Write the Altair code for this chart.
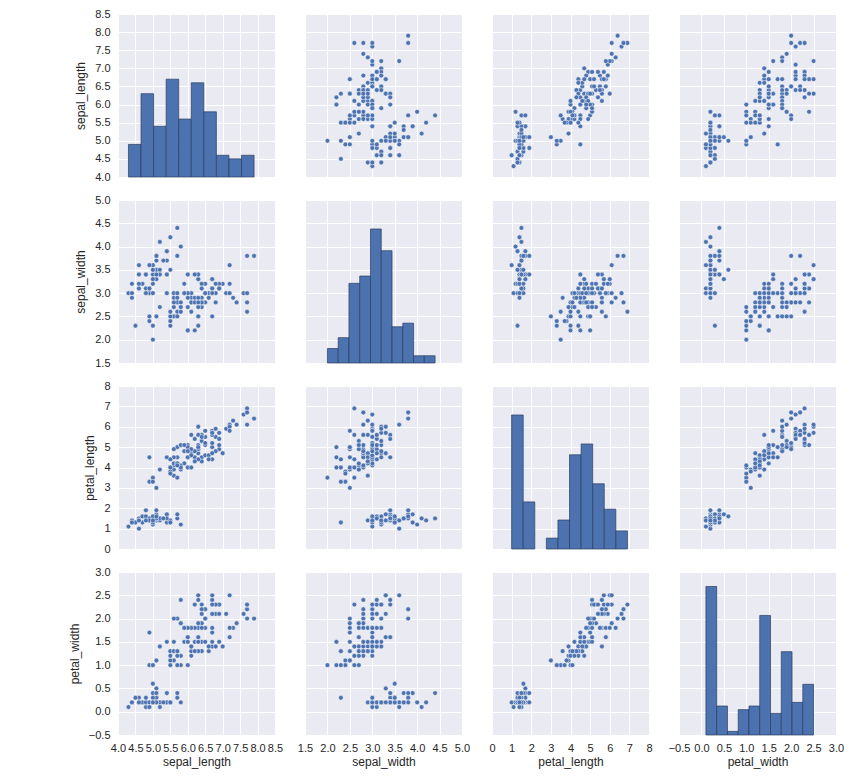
import altair as alt
import pandas as pd

sepal_length = [5.1, 4.9, 4.7, 4.6, 5.0, 5.4, 4.6, 5.0, 4.4, 4.9, 5.4, 4.8, 4.8, 4.3, 5.8, 5.7, 5.4, 5.1, 5.7, 5.1,
                5.4, 5.1, 4.6, 5.1, 4.8, 5.0, 5.0, 5.2, 5.2, 4.7, 4.8, 5.4, 5.2, 5.5, 4.9, 5.0, 5.5, 4.9, 4.4, 5.1,
                5.0, 4.5, 4.4, 5.0, 5.1, 4.8, 5.1, 4.6, 5.3, 5.0,
                7.0, 6.4, 6.9, 5.5, 6.5, 5.7, 6.3, 4.9, 6.6, 5.2, 5.0, 5.9, 6.0, 6.1, 5.6, 6.7, 5.6, 5.8, 6.2, 5.6,
                5.9, 6.1, 6.3, 6.1, 6.4, 6.6, 6.8, 6.7, 6.0, 5.7, 5.5, 5.5, 5.8, 6.0, 5.4, 6.0, 6.7, 6.3, 5.6, 5.5,
                5.5, 6.1, 5.8, 5.0, 5.6, 5.7, 5.7, 6.2, 5.1, 5.7,
                6.3, 5.8, 7.1, 6.3, 6.5, 7.6, 4.9, 7.3, 6.7, 7.2, 6.5, 6.4, 6.8, 5.7, 5.8, 6.4, 6.5, 7.7, 7.7, 6.0,
                6.9, 5.6, 7.7, 6.3, 6.7, 7.2, 6.2, 6.1, 6.4, 7.2, 7.4, 7.9, 6.4, 6.3, 6.1, 7.7, 6.3, 6.4, 6.0, 6.9,
                6.7, 6.9, 5.8, 6.8, 6.7, 6.7, 6.3, 6.5, 6.2, 5.9]
sepal_width = [3.5, 3.0, 3.2, 3.1, 3.6, 3.9, 3.4, 3.4, 2.9, 3.1, 3.7, 3.4, 3.0, 3.0, 4.0, 4.4, 3.9, 3.5, 3.8, 3.8,
               3.4, 3.7, 3.6, 3.3, 3.4, 3.0, 3.4, 3.5, 3.4, 3.2, 3.1, 3.4, 4.1, 4.2, 3.1, 3.2, 3.5, 3.6, 3.0, 3.4,
               3.5, 2.3, 3.2, 3.5, 3.8, 3.0, 3.8, 3.2, 3.7, 3.3,
               3.2, 3.2, 3.1, 2.3, 2.8, 2.8, 3.3, 2.4, 2.9, 2.7, 2.0, 3.0, 2.2, 2.9, 2.9, 3.1, 3.0, 2.7, 2.2, 2.5,
               3.2, 2.8, 2.5, 2.8, 2.9, 3.0, 2.8, 3.0, 2.9, 2.6, 2.4, 2.4, 2.7, 2.7, 3.0, 3.4, 3.1, 2.3, 3.0, 2.5,
               2.6, 3.0, 2.6, 2.3, 2.7, 3.0, 2.9, 2.9, 2.5, 2.8,
               3.3, 2.7, 3.0, 2.9, 3.0, 3.0, 2.5, 2.9, 2.5, 3.6, 3.2, 2.7, 3.0, 2.5, 2.8, 3.2, 3.0, 3.8, 2.6, 2.2,
               3.2, 2.8, 2.8, 2.7, 3.3, 3.2, 2.8, 3.0, 2.8, 3.0, 2.8, 3.8, 2.8, 2.8, 2.6, 3.0, 3.4, 3.1, 3.0, 3.1,
               3.1, 3.1, 2.7, 3.2, 3.3, 3.0, 2.5, 3.0, 3.4, 3.0]
petal_length = [1.4, 1.4, 1.3, 1.5, 1.4, 1.7, 1.4, 1.5, 1.4, 1.5, 1.5, 1.6, 1.4, 1.1, 1.2, 1.5, 1.3, 1.4, 1.7, 1.5,
                1.7, 1.5, 1.0, 1.7, 1.9, 1.6, 1.6, 1.5, 1.4, 1.6, 1.6, 1.5, 1.5, 1.4, 1.5, 1.2, 1.3, 1.4, 1.3, 1.5,
                1.3, 1.3, 1.3, 1.6, 1.9, 1.4, 1.6, 1.4, 1.5, 1.4,
                4.7, 4.5, 4.9, 4.0, 4.6, 4.5, 4.7, 3.3, 4.6, 3.9, 3.5, 4.2, 4.0, 4.7, 3.6, 4.4, 4.5, 4.1, 4.5, 3.9,
                4.8, 4.0, 4.9, 4.7, 4.3, 4.4, 4.8, 5.0, 4.5, 3.5, 3.8, 3.7, 3.9, 5.1, 4.5, 4.5, 4.7, 4.4, 4.1, 4.0,
                4.4, 4.6, 4.0, 3.3, 4.2, 4.2, 4.2, 4.3, 3.0, 4.1,
                6.0, 5.1, 5.9, 5.6, 5.8, 6.6, 4.5, 6.3, 5.8, 6.1, 5.1, 5.3, 5.5, 5.0, 5.1, 5.3, 5.5, 6.7, 6.9, 5.0,
                5.7, 4.9, 6.7, 4.9, 5.7, 6.0, 4.8, 4.9, 5.6, 5.8, 6.1, 6.4, 5.6, 5.1, 5.6, 6.1, 5.6, 5.5, 4.8, 5.4,
                5.6, 5.1, 5.1, 5.9, 5.7, 5.2, 5.0, 5.2, 5.4, 5.1]
petal_width = [0.2, 0.2, 0.2, 0.2, 0.2, 0.4, 0.3, 0.2, 0.2, 0.1, 0.2, 0.2, 0.1, 0.1, 0.2, 0.4, 0.4, 0.3, 0.3, 0.3,
               0.2, 0.4, 0.2, 0.5, 0.2, 0.2, 0.4, 0.2, 0.2, 0.2, 0.2, 0.4, 0.1, 0.2, 0.2, 0.2, 0.2, 0.1, 0.2, 0.2,
               0.3, 0.3, 0.2, 0.6, 0.4, 0.3, 0.2, 0.2, 0.2, 0.2,
               1.4, 1.5, 1.5, 1.3, 1.5, 1.3, 1.6, 1.0, 1.3, 1.4, 1.0, 1.5, 1.0, 1.4, 1.3, 1.4, 1.5, 1.0, 1.5, 1.1,
               1.8, 1.3, 1.5, 1.2, 1.3, 1.4, 1.4, 1.7, 1.5, 1.0, 1.1, 1.0, 1.2, 1.6, 1.5, 1.6, 1.5, 1.3, 1.3, 1.3,
               1.2, 1.4, 1.2, 1.0, 1.3, 1.2, 1.3, 1.3, 1.1, 1.3,
               2.5, 1.9, 2.1, 1.8, 2.2, 2.1, 1.7, 1.8, 1.8, 2.5, 2.0, 1.9, 2.1, 2.0, 2.4, 2.3, 1.8, 2.2, 2.3, 1.5,
               2.3, 2.0, 2.0, 1.8, 2.1, 1.8, 1.8, 1.8, 2.1, 1.6, 1.9, 2.0, 2.2, 1.5, 1.4, 2.3, 2.4, 1.8, 1.8, 2.1,
               2.4, 2.3, 1.9, 2.3, 2.5, 2.3, 1.9, 2.0, 2.3, 1.8]

variables = ["sepal_length", "sepal_width", "petal_length", "petal_width"]

# axis ranges and tick labels
axis_domains = {
    "sepal_length": [4.0, 8.5],
    "sepal_width": [1.5, 5.0],
    "petal_length": [0, 8],
    "petal_width": [-0.5, 3.0],
}
axis_ticks = {
    "sepal_length": [4.0, 4.5, 5.0, 5.5, 6.0, 6.5, 7.0, 7.5, 8.0, 8.5],
    "sepal_width": [1.5, 2.0, 2.5, 3.0, 3.5, 4.0, 4.5, 5.0],
    "petal_length": [0, 1, 2, 3, 4, 5, 6, 7, 8],
    "petal_width": [-0.5, 0.0, 0.5, 1.0, 1.5, 2.0, 2.5, 3.0],
}
axis_formats = {"sepal_length": ".1f", "sepal_width": ".1f", "petal_length": "d", "petal_width": ".1f"}

# diagonal histograms (10 bins each): bin edges and counts
hist_edges = {
    "sepal_length": [4.3, 4.66, 5.02, 5.38, 5.74, 6.1, 6.46, 6.82, 7.18, 7.54, 7.9],
    "sepal_width": [2.0, 2.24, 2.48, 2.72, 2.96, 3.2, 3.44, 3.68, 3.92, 4.16, 4.4],
    "petal_length": [1.0, 1.59, 2.18, 2.77, 3.36, 3.95, 4.54, 5.13, 5.72, 6.31, 6.9],
    "petal_width": [0.1, 0.34, 0.58, 0.82, 1.06, 1.3, 1.54, 1.78, 2.02, 2.26, 2.5],
}
hist_counts = {
    "sepal_length": [9, 23, 14, 27, 16, 26, 18, 6, 5, 6],
    "sepal_width": [4, 7, 22, 24, 37, 31, 10, 11, 2, 2],
    "petal_length": [37, 13, 0, 3, 8, 26, 29, 18, 11, 5],
    "petal_width": [41, 8, 1, 7, 8, 33, 6, 23, 9, 14],
}
count_domain = [0, 45]

df = pd.DataFrame({
    "sepal_length": sepal_length,
    "sepal_width": sepal_width,
    "petal_length": petal_length,
    "petal_width": petal_width,
})

BLUE = "#4C72B0"
BG = "#EAEAF2"
TEXT = "#262626"
FONT = "Liberation Sans"
PW, PH = 157, 163


def make_axis(var, show, title):
    if show:
        return alt.Axis(values=axis_ticks[var], format=axis_formats[var], title=title)
    return alt.Axis(values=axis_ticks[var], labels=False, title=None)


def scale(var):
    return alt.Scale(domain=axis_domains[var], nice=False, zero=False)


panels = []
for i, yv in enumerate(variables):
    for j, xv in enumerate(variables):
        xaxis = make_axis(xv, i == 3, xv)
        yaxis = make_axis(yv, j == 0, yv)
        if i == j:
            edges = hist_edges[xv]
            hdf = pd.DataFrame({
                f"{xv}_lo": edges[:-1],
                f"{xv}_hi": edges[1:],
                f"{xv}_count": hist_counts[xv],
            })
            base = alt.Chart(df).mark_point(opacity=0).encode(
                x=alt.X(f"{xv}:Q", scale=scale(xv), axis=xaxis),
                y=alt.Y(f"{yv}:Q", scale=scale(yv), axis=yaxis),
            )
            bars = alt.Chart(hdf).transform_filter(
                alt.datum[f"{xv}_count"] > 0
            ).mark_rect(
                fill=BLUE, stroke="#2b3d5e", strokeWidth=0.7
            ).encode(
                x=alt.X(f"{xv}_lo:Q", scale=scale(xv), axis=None),
                x2=f"{xv}_hi:Q",
                y=alt.Y(f"{xv}_count:Q", scale=alt.Scale(domain=count_domain, nice=False, zero=True), axis=None),
                y2=alt.datum(0),
            )
            p = alt.layer(base, bars).resolve_scale(x="independent", y="independent")
        else:
            p = alt.Chart(df).mark_circle(
                size=23, fill=BLUE, opacity=1, stroke="white", strokeWidth=0.5
            ).encode(
                x=alt.X(f"{xv}:Q", scale=scale(xv), axis=xaxis),
                y=alt.Y(f"{yv}:Q", scale=scale(yv), axis=yaxis),
            )
        panels.append(p.properties(width=PW, height=PH))

chart = alt.concat(
    *panels, columns=4, spacing={"row": 23, "column": 30}, bounds="flush"
).properties(
    padding={"left": 60, "top": 0, "right": 5, "bottom": 5}
).configure_view(
    fill=BG, stroke=None
).configure_axis(
    grid=True, gridColor="white", gridWidth=1, gridOpacity=1,
    domain=False, ticks=False, labelFlush=False, labelOverlap=False,
    labelFont=FONT, labelFontSize=11, labelColor=TEXT,
    titleFont=FONT, titleFontSize=12, titleFontWeight="normal", titleColor=TEXT,
).configure_axisX(
    labelPadding=7, titlePadding=3
).configure_axisY(
    labelPadding=8, titlePadding=7
)

chart.save("out.html", embed_options={"renderer": "svg", "actions": False})
